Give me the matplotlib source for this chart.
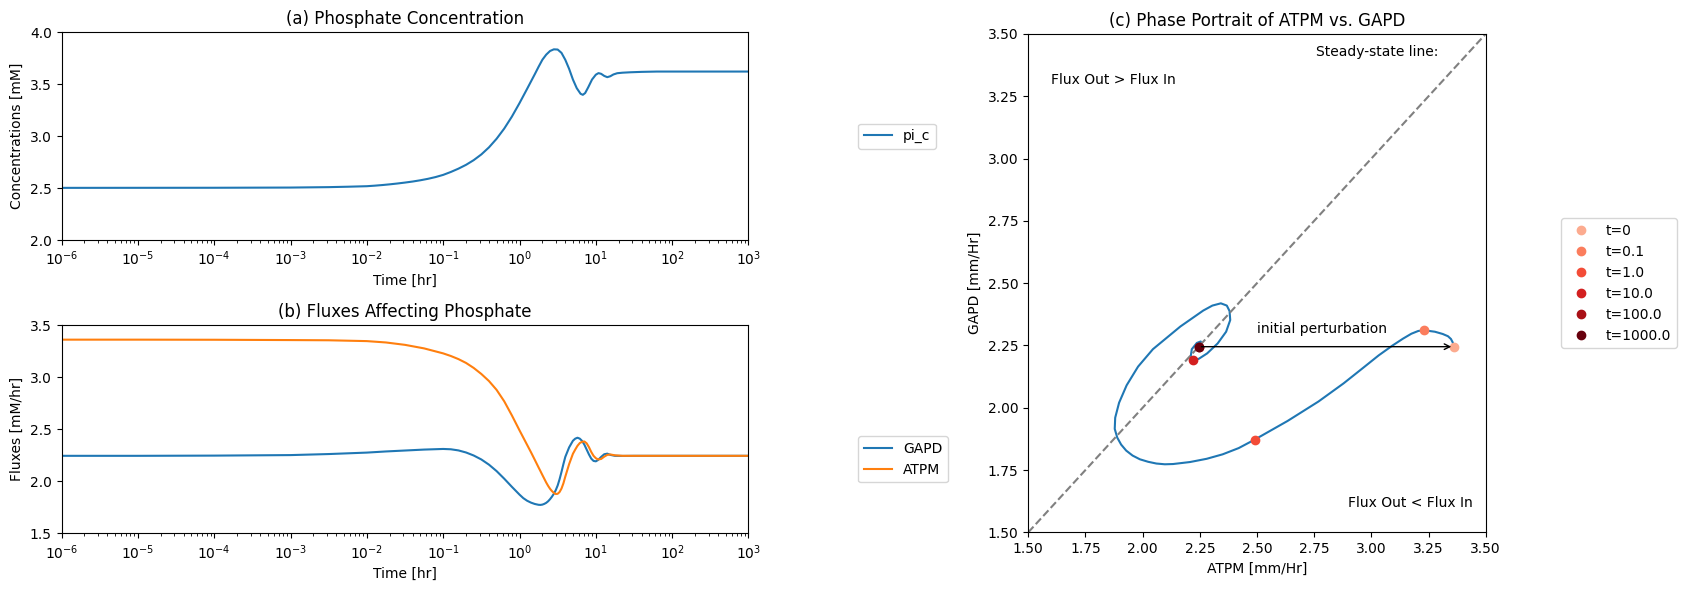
import numpy as np
import matplotlib
matplotlib.use("Agg")
import matplotlib.pyplot as plt

# --- values (time given as log10 of hours) ---
log_t_pi = [-6, -4, -3, -2.5, -2.25, -2.0, -1.9, -1.8, -1.7, -1.6, -1.5, -1.4, -1.3, -1.2, -1.1,
            -1.0, -0.9, -0.8, -0.7, -0.6, -0.5, -0.4, -0.3, -0.2, -0.1, 0.0, 0.1, 0.2,
            0.25, 0.3, 0.35, 0.4, 0.45, 0.5, 0.55, 0.6, 0.65, 0.7, 0.75, 0.8, 0.83, 0.86,
            0.9, 0.95, 1.0, 1.035, 1.07, 1.11, 1.15, 1.19, 1.23, 1.28, 1.35, 1.45, 1.6,
            1.8, 3.0]
pi_c = [2.502, 2.503, 2.505, 2.509, 2.513, 2.518, 2.523, 2.529, 2.536, 2.544, 2.553, 2.563, 2.575, 2.589, 2.606,
        2.627, 2.655, 2.687, 2.724, 2.769, 2.824, 2.892, 2.975, 3.073, 3.188, 3.318, 3.456, 3.596,
        3.668, 3.736, 3.785, 3.820, 3.836, 3.834, 3.802, 3.735, 3.648, 3.545, 3.462, 3.408, 3.398, 3.415,
        3.470, 3.545, 3.592, 3.607, 3.600, 3.580, 3.568, 3.577, 3.594, 3.606, 3.611, 3.615, 3.619,
        3.622, 3.622]

log_t_flux = [-6, -5, -4, -3, -2.5, -2, -1.75, -1.5, -1.25, -1.0,
              -0.9, -0.8, -0.7, -0.6, -0.5, -0.4, -0.3, -0.2, -0.1, 0.0,
              0.05, 0.1, 0.15, 0.2, 0.25, 0.275, 0.3, 0.325, 0.35, 0.375,
              0.4, 0.425, 0.45, 0.475, 0.5, 0.525, 0.55, 0.575, 0.6, 0.65,
              0.7, 0.73, 0.76, 0.79, 0.82, 0.85, 0.88, 0.91, 0.94, 0.97,
              1.0, 1.03, 1.07, 1.11, 1.15, 1.19, 1.25, 1.35, 1.5, 2.0,
              3.0]
gapd = [2.245, 2.245, 2.247, 2.252, 2.262, 2.276, 2.287, 2.296, 2.305, 2.311,
        2.308, 2.297, 2.277, 2.248, 2.210, 2.160, 2.098, 2.025, 1.947, 1.872,
        1.838, 1.813, 1.795, 1.782, 1.774, 1.773, 1.776, 1.783, 1.793, 1.808,
        1.828, 1.852, 1.880, 1.915, 1.960, 2.020, 2.090, 2.165, 2.235, 2.326,
        2.390, 2.410, 2.419, 2.410, 2.388, 2.352, 2.305, 2.258, 2.218, 2.196,
        2.192, 2.205, 2.235, 2.260, 2.266, 2.254, 2.245, 2.244, 2.245, 2.245,
        2.245]
atpm = [3.362, 3.362, 3.361, 3.358, 3.356, 3.348, 3.335, 3.312, 3.278, 3.230,
        3.205, 3.175, 3.138, 3.090, 3.032, 2.964, 2.879, 2.769, 2.634, 2.490,
        2.420, 2.350, 2.280, 2.207, 2.133, 2.097, 2.060, 2.024, 1.988, 1.956,
        1.928, 1.906, 1.889, 1.878, 1.880, 1.897, 1.930, 1.980, 2.045, 2.165,
        2.265, 2.305, 2.342, 2.368, 2.380, 2.383, 2.365, 2.328, 2.282, 2.245,
        2.222, 2.210, 2.215, 2.237, 2.254, 2.258, 2.250, 2.245, 2.245, 2.245,
        2.245]

marker_log_t = [-6, -1.0, 0.0, 1.0, 2.0, 3.0]
marker_labels = ["t=0", "t=0.1", "t=1.0", "t=10.0", "t=100.0", "t=1000.0"]

t_pi = 10.0 ** np.array(log_t_pi)
t_flux = 10.0 ** np.array(log_t_flux)

fig = plt.figure(figsize=(16.86, 5.9), dpi=100)
ax_a = fig.add_axes([0.03648, 0.59322, 0.40747, 0.35203])
ax_b = fig.add_axes([0.03648, 0.09610, 0.40747, 0.35254])
ax_c = fig.add_axes([0.60990, 0.09780, 0.27129, 0.84458])

# (a) phosphate concentration
ax_a.plot(t_pi, pi_c, label="pi_c")
ax_a.set_xscale("log")
ax_a.set_xlim(1e-6, 1e3)
ax_a.set_ylim(2.0, 4.0)
ax_a.set_xlabel("Time [hr]")
ax_a.set_ylabel("Concentrations [mM]")
ax_a.set_title("(a) Phosphate Concentration")
ax_a.legend(loc="center left", bbox_to_anchor=(1.15, 0.5))

# (b) fluxes
ax_b.plot(t_flux, gapd, label="GAPD")
ax_b.plot(t_flux, atpm, label="ATPM")
ax_b.set_xscale("log")
ax_b.set_xlim(1e-6, 1e3)
ax_b.set_ylim(1.5, 3.5)
ax_b.set_xlabel("Time [hr]")
ax_b.set_ylabel("Fluxes [mM/hr]")
ax_b.set_title("(b) Fluxes Affecting Phosphate")
ax_b.legend(loc="upper left", bbox_to_anchor=(1.15, 0.5))

# (c) phase portrait
ax_c.plot(atpm, gapd, color="C0")
ax_c.axline((1.5, 1.5), slope=1, linestyle="--", color="gray")
colors = plt.cm.Reds(np.linspace(0.3, 1.0, len(marker_log_t)))
for lt, lab, col in zip(marker_log_t, marker_labels, colors):
    i = log_t_flux.index(lt)
    ax_c.plot(atpm[i], gapd[i], "o", color=col, label=lab)
ss = log_t_flux.index(2.0)
ax_c.annotate("", xy=(atpm[0], gapd[0]), xytext=(atpm[ss], gapd[ss]),
              arrowprops=dict(arrowstyle="->", color="black"))
ax_c.text(2.5, 2.3, "initial perturbation")
ax_c.text(2.76, 3.41, "Steady-state line:")
ax_c.text(1.6, 3.3, "Flux Out > Flux In")
ax_c.text(2.9, 1.6, "Flux Out < Flux In")
ax_c.set_xlim(1.5, 3.5)
ax_c.set_ylim(1.5, 3.5)
ax_c.set_xlabel("ATPM [mm/Hr]")
ax_c.set_ylabel("GAPD [mm/Hr]")
ax_c.set_title("(c) Phase Portrait of ATPM vs. GAPD")
ax_c.legend(loc="center left", bbox_to_anchor=(1.15, 0.5))

fig.savefig("out.png", dpi=100)
